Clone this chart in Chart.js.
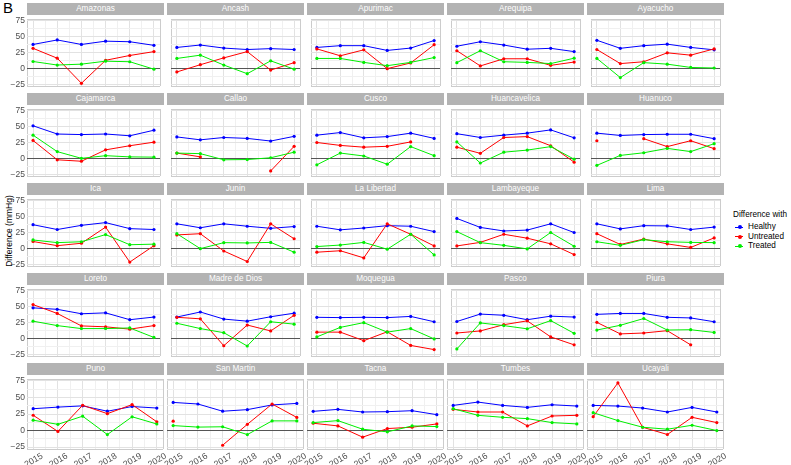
<!DOCTYPE html>
<html>
<head>
<meta charset="utf-8">
<script src="https://cdn.jsdelivr.net/npm/chart.js@4.4.1/dist/chart.umd.min.js"></script>
<style>
body { margin: 0; background: #fff; font-family: 'Liberation Sans', Arial, sans-serif; }
#wrap { position: relative; width: 791px; height: 465px; overflow: hidden; }
.strip { position: absolute; background: #b3b3b3; color: #fff; font-size: 8.2px; text-align: center; height: 12px; line-height: 12px; }
canvas { position: absolute; }
#tag { position: absolute; left: 3px; top: -1px; font-size: 15px; }
#ytitle { position: absolute; left: -46px; top: 226px; width: 110px; text-align: center; font-size: 8.5px; transform: rotate(-90deg); }
#legend { position: absolute; left: 733px; top: 210px; font-size: 8.2px; }
#legend .item { height: 9.7px; line-height: 9.7px; position: relative; padding-left: 15px; }
#legend .key { position: absolute; left: 2px; top: 4.5px; width: 8px; height: 1px; }
#legend .key i { position: absolute; left: 2.5px; top: -1.5px; width: 4px; height: 4px; border-radius: 2px; }
</style>
</head>
<body>
<div id="wrap">
  <div id="tag">B</div>
  <div id="ytitle">Difference (mmHg)</div>
  <div id="legend">
    <div style="margin-bottom:3px">Difference with</div>
    <div class="item"><span class="key" style="background:#0000ff"><i style="background:#0000ff"></i></span>Healthy</div>
    <div class="item"><span class="key" style="background:#ff0000"><i style="background:#ff0000"></i></span>Untreated</div>
    <div class="item"><span class="key" style="background:#00ee00"><i style="background:#00ee00"></i></span>Treated</div>
  </div>
</div>
<script>
const years = [2015, 2016, 2017, 2018, 2019, 2020];
const yTickLabels = [-25, 0, 25, 50, 75];

const regions = ['Amazonas', 'Ancash', 'Apurimac', 'Arequipa', 'Ayacucho',
  'Cajamarca', 'Callao', 'Cusco', 'Huancavelica', 'Huanuco',
  'Ica', 'Junin', 'La Libertad', 'Lambayeque', 'Lima',
  'Loreto', 'Madre de Dios', 'Moquegua', 'Pasco', 'Piura',
  'Puno', 'San Martin', 'Tacna', 'Tumbes', 'Ucayali'];

// difference vs healthy, one row per region (2015..2020)
const healthy = [
  [37.7, 44.8, 37.7, 42.9, 42, 36.3],
  [33, 36.8, 32, 29.7, 31.1, 29.7],
  [33, 35.8, 35.8, 28.3, 32, 43.9],
  [34.9, 42, 36.8, 30.2, 31.6, 26.4],
  [44.3, 31.6, 35.8, 38.2, 33, 29.2],
  [51.4, 38.4, 37.5, 38.4, 35.6, 44.4],
  [33.8, 29.2, 32.9, 31.5, 27.3, 34.7],
  [36.6, 40.7, 32.4, 34.3, 39.8, 31.5],
  [38.9, 32.9, 36.6, 39.8, 44.9, 32.4],
  [39.8, 36.1, 37.5, 38, 38, 31],
  [37.3, 29.7, 36.3, 40.6, 31.1, 29.7],
  [38.7, 32.5, 38.7, 34.9, 31.6, 34.4],
  [34.9, 29.2, 32.1, 35.8, 34.9, 26.4],
  [47.2, 33, 27.4, 28.8, 38.7, 25],
  [38.7, 30.7, 35.8, 35.4, 29.7, 33.5],
  [48.1, 45.8, 38.8, 40.2, 29.4, 33.6],
  [33.6, 41.6, 30.4, 27.1, 34.1, 39.7],
  [33.2, 32.7, 33.2, 32.7, 34.6, 26.2],
  [26.6, 38.3, 36.4, 29.4, 35, 33.6],
  [37.9, 39.3, 39.3, 33.2, 32.2, 26.2],
  [33, 35.4, 37.3, 29.2, 36.3, 34],
  [42.5, 40.1, 29.2, 31.6, 38.7, 41],
  [29, 32, 28, 28.5, 30, 24],
  [38, 43, 38, 35, 39, 37],
  [38, 37, 34, 28, 35, 28]
];

// difference vs untreated hypertensive
const untreated = [
  [31.6, 16, -23.6, 12.7, 20.3, 26.4],
  [-5.7, 5.7, 16.5, 26.4, -2.8, 9],
  [30.7, 19.8, 29.2, -0.5, 8.5, 37.3],
  [27.8, 3.8, 15.1, 15.1, 4.7, 9.9],
  [29.7, 7.5, 10.4, 24.5, 20.8, 30.7],
  [28.2, -2.3, -4.6, 13.4, 19.9, 25.5],
  [8.3, 2.3, null, null, -19.9, 19],
  [25, 20.4, 17.6, 19, 25.9, null],
  [17.6, 7.9, 32.9, 34.3, 19.9, -6],
  [27.8, null, 31, 18.5, 27.8, 15.3],
  [10.8, 4.2, 8, 33.5, -21.7, 4.2],
  [21.2, 23.1, -4.2, -20.8, 38.7, 15.1],
  [-6.1, -3.8, -15.1, 38.7, 22.2, 3.8],
  [3.8, 9.4, 22.2, 16, 7.1, -9.9],
  [23.1, 6.1, 14.6, 7.1, 1.4, 16.5],
  [53.3, 39.3, 19.6, 18.2, 14.5, 20.1],
  [33.2, 30.8, -11.7, 21, 11.7, 36.4],
  [9.8, 9.8, -3.7, 10.3, -11.2, -17.8],
  [8.4, 11.7, 21.5, 27.6, 2.3, -10.3],
  [25.2, 7, 8.4, 12.1, -10.3, null],
  [23.1, -1.4, 38.2, 25.5, 39.2, 13.2],
  [14.2, null, -22.2, 9.4, 40.1, 19.8],
  [11, 7, -10, 3, 5, 10],
  [32, 28, 28, 7, 22, 23],
  [21, 72, 5, -6, 20, 12]
];

// difference vs treated hypertensive
const treated = [
  [10.8, 5.2, 6.6, 11.3, 10.4, -1.4],
  [15.6, 20.8, 5.2, -8.5, 11.8, -1.4],
  [15.6, 15.6, 9.4, 4.2, 9.4, 17],
  [9, 27.8, 10.4, 9.4, 7.5, 16],
  [15.6, -14.6, 9, 6.6, 1.4, 0.5],
  [36.6, 10.6, 0, 4.2, 2.3, 1.9],
  [8.3, 7.4, -2.3, -1.9, 0.9, 9.7],
  [-10.2, 8.3, 3.7, -9.3, 18.5, 4.2],
  [25.9, -7.4, 9.7, 13, 18.5, -1.4],
  [-11.1, 4.6, 8.8, 15.7, 10.6, 23.1],
  [13.2, 9, 10.4, 21.7, 5.7, 6.6],
  [23.1, -0.5, 9, 8.5, 9.4, -6.1],
  [2.8, 5.2, 9.4, -1.4, 22.2, -10.4],
  [26.4, 9, 4.7, -0.9, 25, 3.3],
  [10.4, 4.7, 13.7, 10.4, 9.4, 9],
  [27.1, 20.1, 15.4, 15.4, 16.4, 1.4],
  [23.8, 15.4, 8.9, -12.1, 26.2, 22.4],
  [2.3, 17.3, 24.8, 9.8, 15.4, -0.9],
  [-16.8, 24.3, 20.1, 15, 28, 7.9],
  [13.1, 20.6, 31.3, 13.1, 13.6, 9.3],
  [15.6, 9.4, 21.7, -6.1, 20.8, 9.9],
  [7.5, 5.2, 5.7, -6.1, 14.6, 14.6],
  [12, 15, 2, -2, 7, 6],
  [33, 23, 20, 18, 12, 10],
  [27, 15, 5, 2, 8, 0]
];

const seriesNames = ['Healthy', 'Untreated', 'Treated'];
const seriesColors = ['#0000ff', '#ff0000', '#00ee00'];

const xMin = 2014.75, xMax = 2020.25;
const yMin = -27.9, yMax = 77.9;
const panelW = 137, plotH = 74, stripH = 12;

Chart.defaults.font.family = "'Liberation Sans', Arial, sans-serif";

const xTicks = [xMin];
years.forEach(y => { xTicks.push(y); if (y < 2020) xTicks.push(y + 0.5); });
xTicks.push(xMax);
const yTicks = [yMin, -25, -12.5, 0, 12.5, 25, 37.5, 50, 62.5, 75, yMax];

function xGrid(ctx) {
  const v = ctx.tick.value;
  if (v === xMin || v === xMax) return '#cccccc';
  return years.includes(v) ? '#e2e2e2' : '#f0f0f0';
}
function yGrid(ctx) {
  const v = ctx.tick.value;
  if (v === 0) return '#555555';
  if (v === yMin || v === yMax) return '#cccccc';
  return yTickLabels.includes(v) ? '#e2e2e2' : '#f0f0f0';
}

const wrap = document.getElementById('wrap');

regions.forEach((name, k) => {
  const r = Math.floor(k / 5), c = k % 5;
  const left = 27 + c * 140;
  const top = Math.round(3.3 + r * 89.8);

  const strip = document.createElement('div');
  strip.className = 'strip';
  strip.style.left = left + 'px';
  strip.style.top = top + 'px';
  strip.style.width = panelW + 'px';
  strip.textContent = name;
  wrap.appendChild(strip);

  const yW = c === 0 ? 27 : 0;
  const xH = r === 4 ? 16 : 0;
  const padL = (r === 4 && c > 0) ? 14 : 0;
  const padR = (r === 4 ? 14 : 0) + 1;
  const padB = xH ? 0 : 1;
  const w = padL + yW + panelW + padR - 1;
  const h = plotH + xH + padB;

  const cv = document.createElement('canvas');
  cv.width = w; cv.height = h;
  cv.style.width = w + 'px'; cv.style.height = h + 'px';
  cv.style.left = (left - yW - padL) + 'px';
  cv.style.top = (top + stripH) + 'px';
  wrap.appendChild(cv);

  const sets = [healthy[k], untreated[k], treated[k]].map((vals, i) => ({
    label: seriesNames[i],
    data: years.map((y, j) => ({ x: y, y: vals[j] })),
    borderColor: seriesColors[i],
    backgroundColor: seriesColors[i],
    borderWidth: 1,
    pointRadius: 1.6,
    pointBorderWidth: 0,
    spanGaps: false,
    order: 2 - i
  }));

  new Chart(cv, {
    type: 'line',
    data: { datasets: sets },
    options: {
      responsive: false,
      animation: false,
      layout: { padding: { left: padL, right: padR, top: 0, bottom: padB } },
      plugins: { legend: { display: false }, tooltip: { enabled: false } },
      scales: {
        x: {
          type: 'linear', min: xMin, max: xMax,
          afterBuildTicks: s => { s.ticks = xTicks.map(v => ({ value: v })); },
          afterFit: s => { s.height = xH; s.paddingLeft = 0; s.paddingRight = 0; },
          grid: { color: xGrid, lineWidth: 1, drawTicks: false },
          border: { display: false },
          ticks: {
            display: r === 4, autoSkip: false, minRotation: 30, maxRotation: 30,
            padding: 2, labelOffset: 9, color: '#4d4d4d', font: { size: 8.8 },
            callback: v => years.includes(v) ? String(v) : ''
          }
        },
        y: {
          type: 'linear', min: yMin, max: yMax,
          afterBuildTicks: s => { s.ticks = yTicks.map(v => ({ value: v })); },
          afterFit: s => { s.width = yW; s.paddingTop = 0; s.paddingBottom = 0; },
          grid: { color: yGrid, lineWidth: 1, drawTicks: false },
          border: { display: false },
          ticks: {
            display: c === 0, autoSkip: false, padding: 2, color: '#4d4d4d', font: { size: 8.5 },
            callback: v => yTickLabels.includes(v) ? String(v).replace('-', '\u2212') : ''
          }
        }
      }
    }
  });
});
</script>
</body>
</html>
